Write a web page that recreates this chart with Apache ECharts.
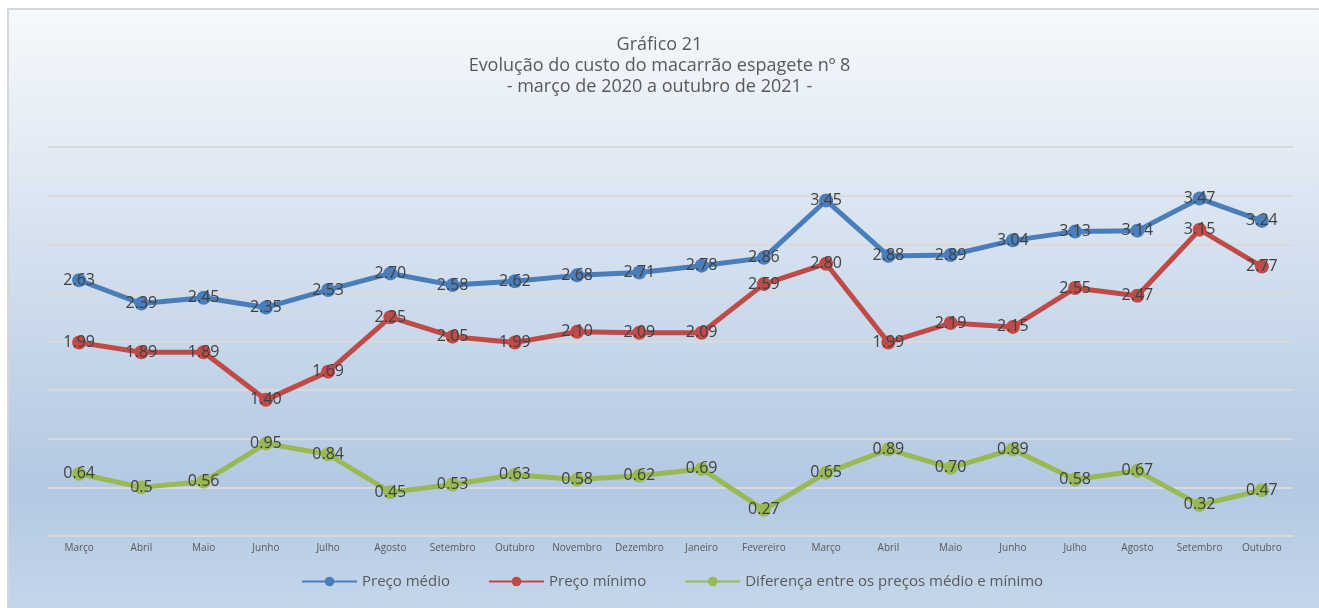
<!DOCTYPE html>
<html>
<head>
<meta charset="utf-8">
<script src="https://cdn.jsdelivr.net/npm/echarts@6/dist/echarts.min.js"></script>
<style>
  html, body { margin: 0; padding: 0; background: #fff; overflow: hidden; }
  #chart { width: 1319px; height: 608px; }
</style>
</head>
<body>
<div id="chart"></div>
<script>
var meses = ['Março','Abril','Maio','Junho','Julho','Agosto','Setembro','Outubro','Novembro','Dezembro',
             'Janeiro','Fevereiro','Março','Abril','Maio','Junho','Julho','Agosto','Setembro','Outubro'];
var precoMedio = [2.63, 2.39, 2.45, 2.35, 2.53, 2.70, 2.58, 2.62, 2.68, 2.71, 2.78, 2.86, 3.45, 2.88, 2.89, 3.04, 3.13, 3.14, 3.47, 3.24];
var precoMinimo = [1.99, 1.89, 1.89, 1.40, 1.69, 2.25, 2.05, 1.99, 2.10, 2.09, 2.09, 2.59, 2.80, 1.99, 2.19, 2.15, 2.55, 2.47, 3.15, 2.77];
var diferenca = [0.64, 0.5, 0.56, 0.95, 0.84, 0.45, 0.53, 0.63, 0.58, 0.62, 0.69, 0.27, 0.65, 0.89, 0.70, 0.89, 0.58, 0.67, 0.32, 0.47];
// the green series prints "0.5" without the trailing zero
var difLabels = ['0.64','0.5','0.56','0.95','0.84','0.45','0.53','0.63','0.58','0.62','0.69','0.27','0.65','0.89','0.70','0.89','0.58','0.67','0.32','0.47'];

var chart = echarts.init(document.getElementById('chart'));

function serie(nome, dados, cor, fmt) {
    return {
        name: nome,
        type: 'line',
        data: dados,
        symbol: 'circle',
        symbolSize: 14,
        lineStyle: { width: 5, color: cor },
        itemStyle: { color: cor },
        label: {
            show: true,
            position: 'inside',
            color: '#404040',
            fontSize: 16,
            fontFamily: 'Open Sans',
            formatter: fmt
        },
        emphasis: { disabled: true },
        z: 3
    };
}

var option = {
    animation: false,
    graphic: [{
        type: 'rect',
        z: -10,
        shape: { x: 8, y: 9, width: 1311, height: 599 },
        style: {
            fill: new echarts.graphic.LinearGradient(0, 0, 0, 1, [
                { offset: 0, color: '#f6f9fc' },
                { offset: 0.8, color: '#b3c8e2' },
                { offset: 1, color: '#c4d6ea' }
            ])
        }
    }, {
        type: 'polyline',
        z: -9,
        shape: { points: [[8, 608], [8, 9], [1319, 9]] },
        style: { stroke: '#d6d6d6', lineWidth: 2, fill: null }
    }],
    title: {
        text: 'Gráfico 21\nEvolução do custo do macarrão espagete nº 8\n- março de 2020 a outubro de 2021 -',
        left: 'center',
        top: 29,
        textStyle: {
            color: '#595959',
            fontSize: 18,
            fontWeight: 'normal',
            fontFamily: 'Open Sans',
            lineHeight: 21
        }
    },
    legend: {
        bottom: 14,
        left: 296,
        itemWidth: 55,
        itemHeight: 12,
        itemGap: 38,
        textStyle: { color: '#595959', fontSize: 15, fontFamily: 'Open Sans' },
        data: ['Preço médio', 'Preço mínimo', 'Diferença entre os preços médio e mínimo']
    },
    grid: { left: 48, right: 26, top: 147, bottom: 72 },
    xAxis: {
        type: 'category',
        data: meses,
        boundaryGap: true,
        axisLine: { lineStyle: { color: '#d9d9d9', width: 2 } },
        axisTick: { show: false },
        axisLabel: { color: '#595959', fontSize: 10, fontFamily: 'Open Sans', margin: 7, interval: 0 }
    },
    yAxis: {
        type: 'value',
        min: 0,
        max: 4,
        interval: 0.5,
        axisLabel: { show: false },
        axisLine: { show: false },
        axisTick: { show: false },
        splitLine: { lineStyle: { color: '#d9d9d9', width: 2 } }
    },
    series: [
        serie('Preço médio', precoMedio, '#4a7ebb', function (p) { return p.value.toFixed(2); }),
        serie('Preço mínimo', precoMinimo, '#be4b48', function (p) { return p.value.toFixed(2); }),
        serie('Diferença entre os preços médio e mínimo', diferenca, '#98b954', function (p) { return difLabels[p.dataIndex]; })
    ]
};

chart.setOption(option);
</script>
</body>
</html>
